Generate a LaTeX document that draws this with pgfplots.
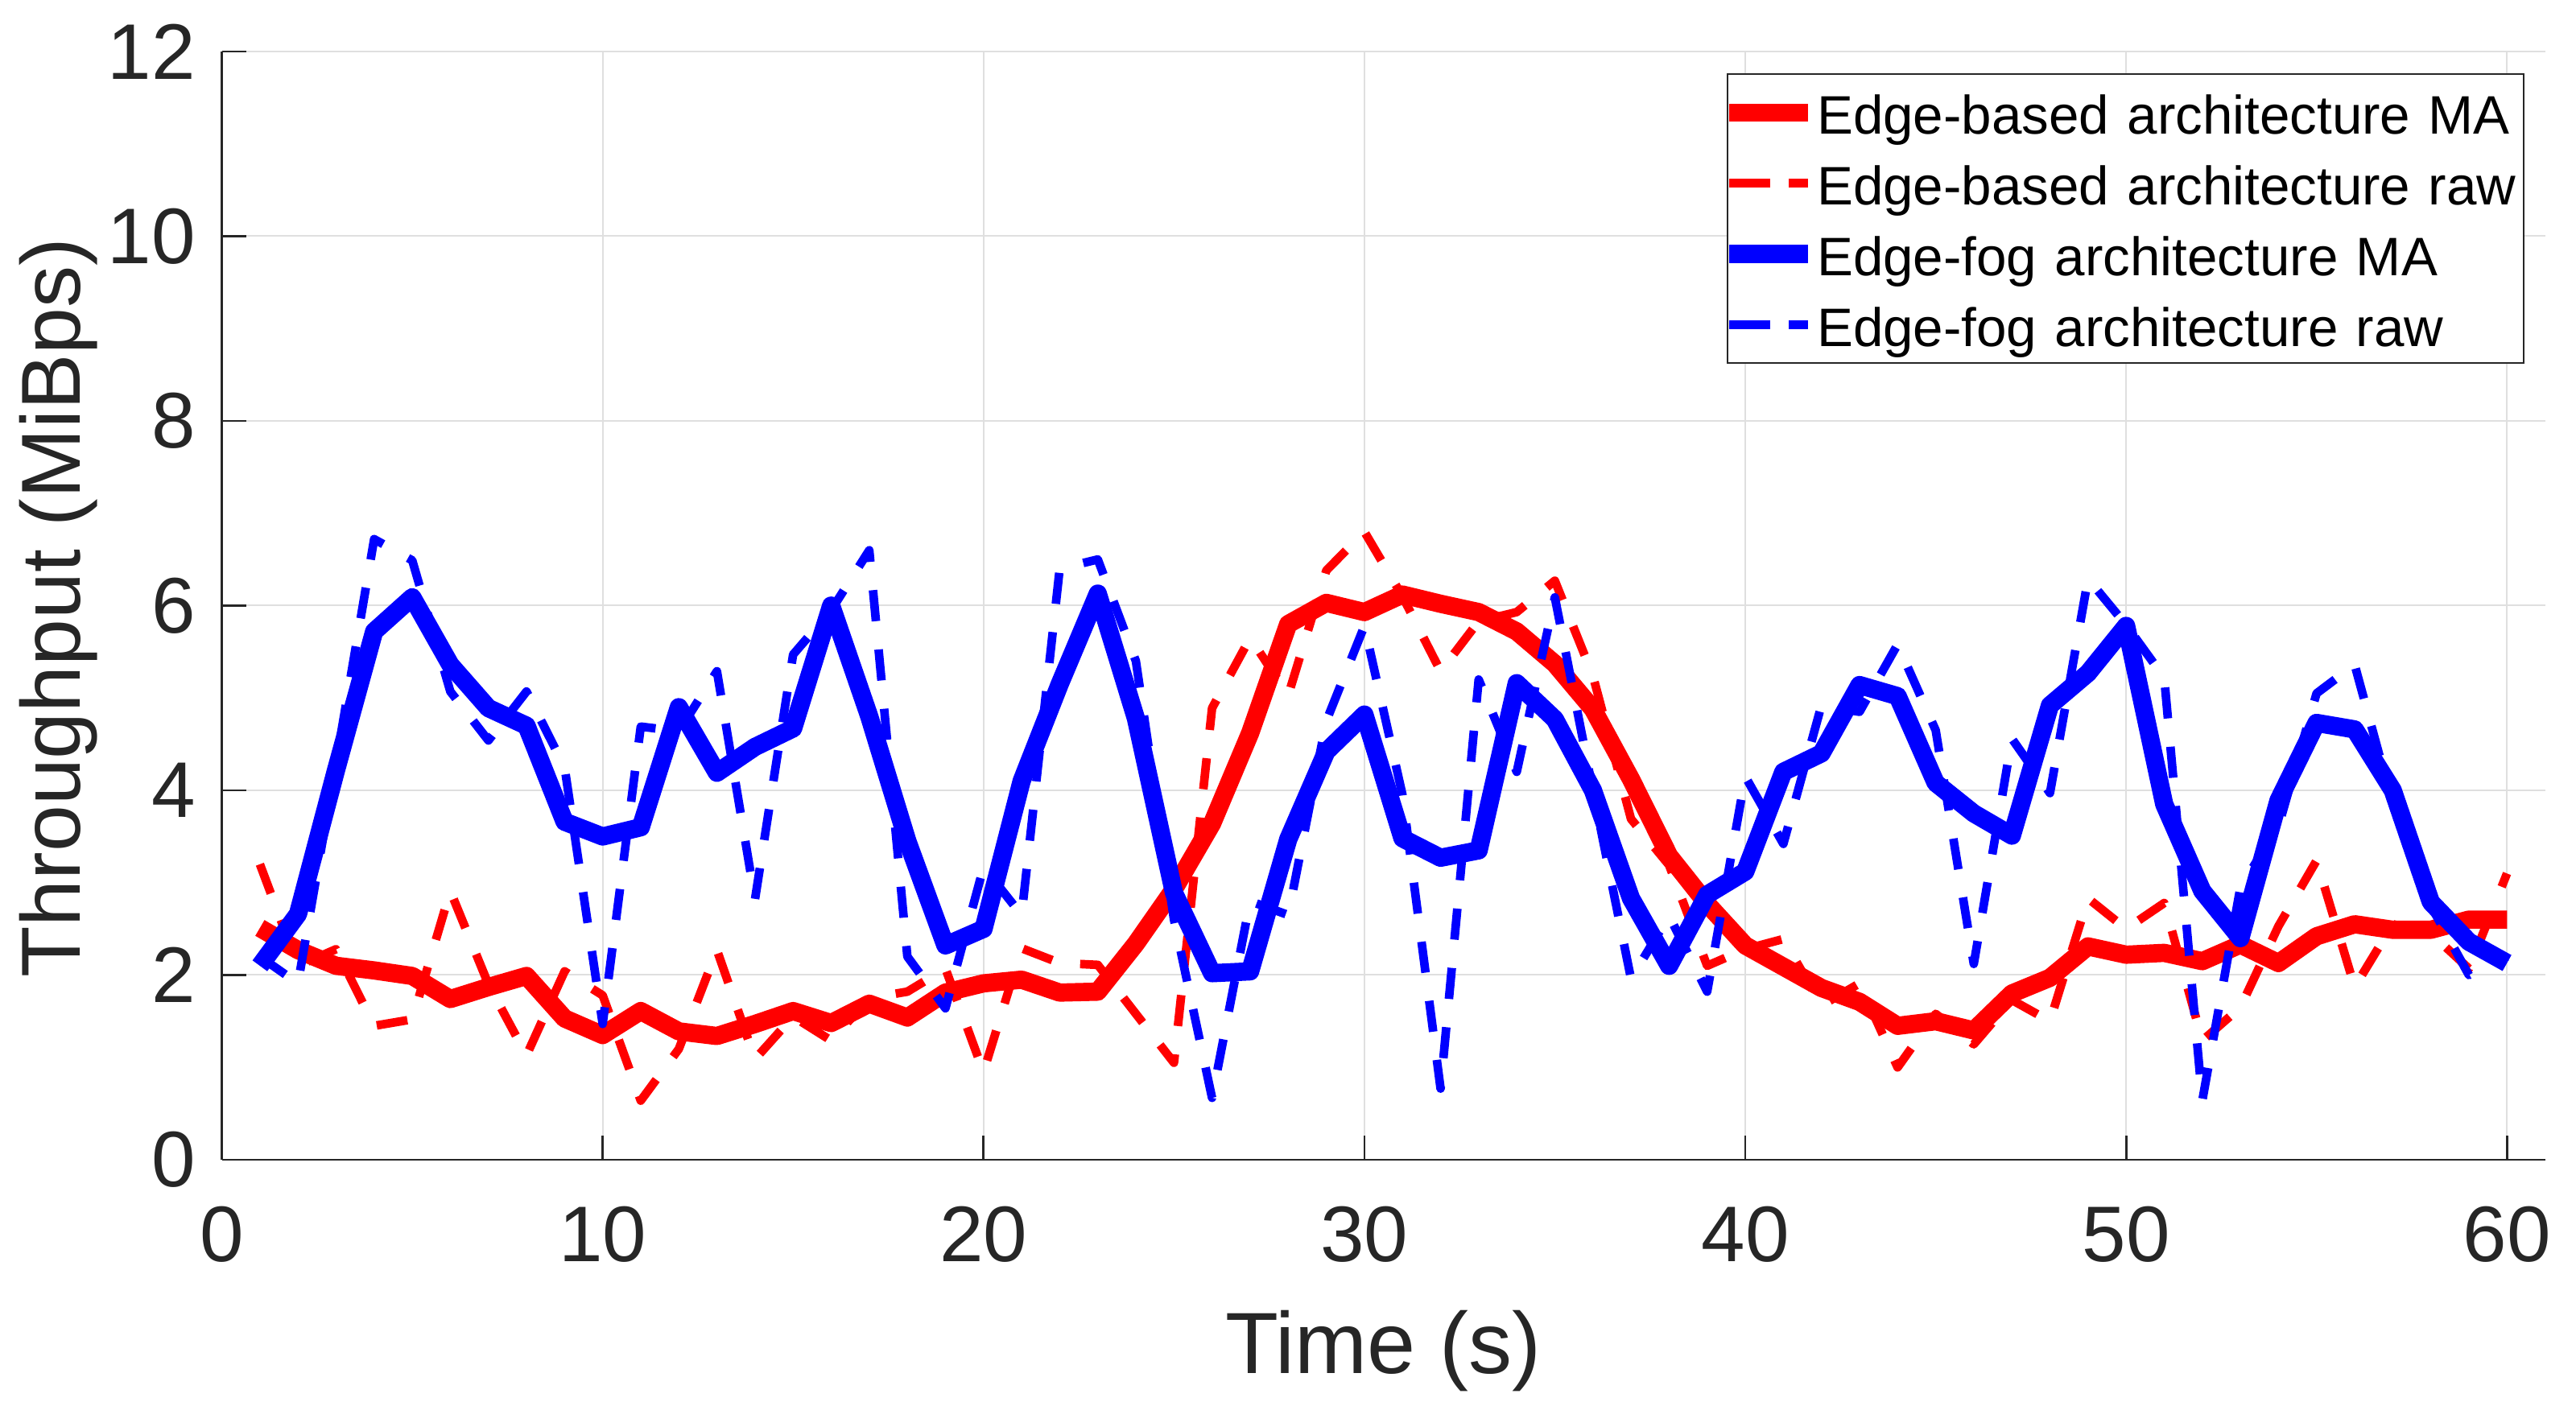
\documentclass[border=0pt]{standalone}
\usepackage{fontspec}
\setmainfont{Liberation Sans}
\usepackage{pgfplots}
\pgfplotsset{compat=1.18}
\usepackage{pgfplotstable}
\usetikzlibrary{calc}

\definecolor{axisgray}{RGB}{38,38,38}
\definecolor{gridgray}{RGB}{223,223,223}
\definecolor{mred}{RGB}{255,0,0}
\definecolor{mblue}{RGB}{0,0,255}

% t, edge-based MA / raw, edge-fog MA / raw (MiBps)
\pgfplotstableread{
t  redma  redraw  bluema  blueraw
1  2.51   3.20    2.10    2.20
2  2.27   2.10    2.66    1.91
3  2.10   2.28    4.22    4.30
4  2.05   1.45    5.72    6.72
5  1.99   1.52    6.09    6.49
6  1.74   2.91    5.36    5.07
7  1.87   1.90    4.89    4.54
8  1.99   1.13    4.70    5.07
9  1.53   2.04    3.66    4.25
10 1.35   1.78    3.50    1.47
11 1.61   0.64    3.60    4.69
12 1.39   1.20    4.90    4.64
13 1.34   2.27    4.19    5.29
14 1.47   1.09    4.47    2.82
15 1.61   1.55    4.67    5.47
16 1.48   1.29    6.00    5.95
17 1.69   1.75    4.80    6.60
18 1.54   1.82    3.45    2.20
19 1.81   2.07    2.32    1.64
20 1.91   0.95    2.50    3.17
21 1.95   2.29    4.10    2.65
22 1.81   2.13    5.15    6.40
23 1.82   2.11    6.13    6.50
24 2.34   1.58    4.78    5.40
25 2.93   1.05    2.89    2.60
26 3.64   4.89    2.02    0.67
27 4.62   5.65    2.04    2.80
28 5.80   5.03    3.47    2.65
29 6.03   6.38    4.42    4.75
30 5.93   6.80    4.82    5.78
31 6.12   6.10    3.48    3.95
32 6.02   5.29    3.27    0.77
33 5.93   5.83    3.35    5.20
34 5.72   5.93    5.16    4.20
35 5.37   6.27    4.77    6.09
36 4.88   5.24    4.00    4.00
37 4.12   3.69    2.83    1.96
38 3.29   3.19    2.10    2.64
39 2.77   2.10    2.87    1.82
40 2.32   2.28    3.12    4.15
41 2.09   2.39    4.20    3.42
42 1.86   1.67    4.40    4.92
43 1.71   1.91    5.14    4.85
44 1.45   1.00    5.02    5.58
45 1.50   1.58    4.08    4.65
46 1.40   1.25    3.75    2.12
47 1.80   1.73    3.51    4.56
48 1.97   1.50    4.92    3.97
49 2.31   2.83    5.27    6.29
50 2.22   2.50    5.78    5.79
51 2.24   2.78    3.85    5.22
52 2.15   1.29    2.91    0.64
53 2.33   1.65    2.40    2.95
54 2.13   2.53    3.89    3.61
55 2.42   3.24    4.73    5.05
56 2.55   1.87    4.66    5.36
57 2.49   2.55    4.00    3.85
58 2.49   2.45    2.79    2.75
59 2.60   2.07    2.36    2.00
60 2.60   3.10    2.13    2.20
}\thrutable

\begin{document}
\begin{tikzpicture}
\begin{axis}[
    scale only axis,
    width=432.9pt, height=206.55pt,
    xmin=0, xmax=61, ymin=0, ymax=12,
    xtick={0,10,...,60}, ytick={0,2,...,12},
    axis lines*=left,
    axis line style={-, draw=axisgray, line width=0.4pt},
    every outer x axis line/.append style={-},
    every outer y axis line/.append style={-},
    tick align=inside,
    major tick length=4.5pt,
    tick style={draw=axisgray, line width=0.4pt},
    grid=major,
    major grid style={draw=gridgray, line width=0.3pt},
    /pgf/number format/assume math mode=true,
    tick label style={font=\fontsize{14.7}{17}\selectfont, text=axisgray},
    xticklabel style={anchor=north, inner sep=0pt, yshift=-8.55pt},
    yticklabel style={anchor=east, inner sep=0pt, xshift=-4.7pt},
    every axis x label/.style={at={(axis description cs:0.5,-0.19295)}, anchor=base,
        font=\fontsize{16.2}{19}\selectfont, text=axisgray},
    every axis y label/.style={at={(axis description cs:-0.06116,0.498)}, rotate=90, anchor=base,
        font=\fontsize{15.6}{18}\selectfont, text=axisgray},
    xlabel={Time (s)},
    ylabel={Throughput (MiBps)},
    % sample line kept out of the cell size; the cell starts a little inside the line
    legend image code/.code={
        \draw[#1, overlay] (0pt,0pt) -- (14.6pt,0pt);
        \path (1.8pt,0pt) -- (14.6pt,0pt);
    },
    legend cell align=left,
    legend style={
        at={(1,1)}, anchor=north east, xshift=-3.84pt, yshift=-4.05pt,
        draw=axisgray, line width=0.35pt, fill=white,
        font=\fontsize{10.1}{12}\selectfont,
        inner xsep=0.45pt, inner ysep=0.59pt, row sep=0pt,
        nodes={inner sep=0pt, text height=10.61pt, text depth=2.56pt,
            text width=131.2pt, text=black},
    },
    ma/.style={line width=3.4pt, line join=round, line cap=butt},
    raw/.style={line width=1.6pt, line join=round, line cap=butt, dash pattern=on 5.8pt off 5.3pt},
]
\addplot[mred, ma] table[x=t, y=redma] {\thrutable};
\addlegendentry{Edge-based architecture MA}
\addplot[mred, raw] table[x=t, y=redraw] {\thrutable};
\addlegendentry{Edge-based architecture raw}
\addplot[mblue, ma] table[x=t, y=bluema] {\thrutable};
\addlegendentry{Edge-fog architecture MA}
\addplot[mblue, raw] table[x=t, y=blueraw] {\thrutable};
\addlegendentry{Edge-fog architecture raw}
\end{axis}
\pgfresetboundingbox
\path[use as bounding box] ($(current axis.south west)+(-41.33pt,-45.15pt)$) rectangle ($(current axis.north east)+(5.76pt,9.6pt)$);
\end{tikzpicture}
\end{document}
